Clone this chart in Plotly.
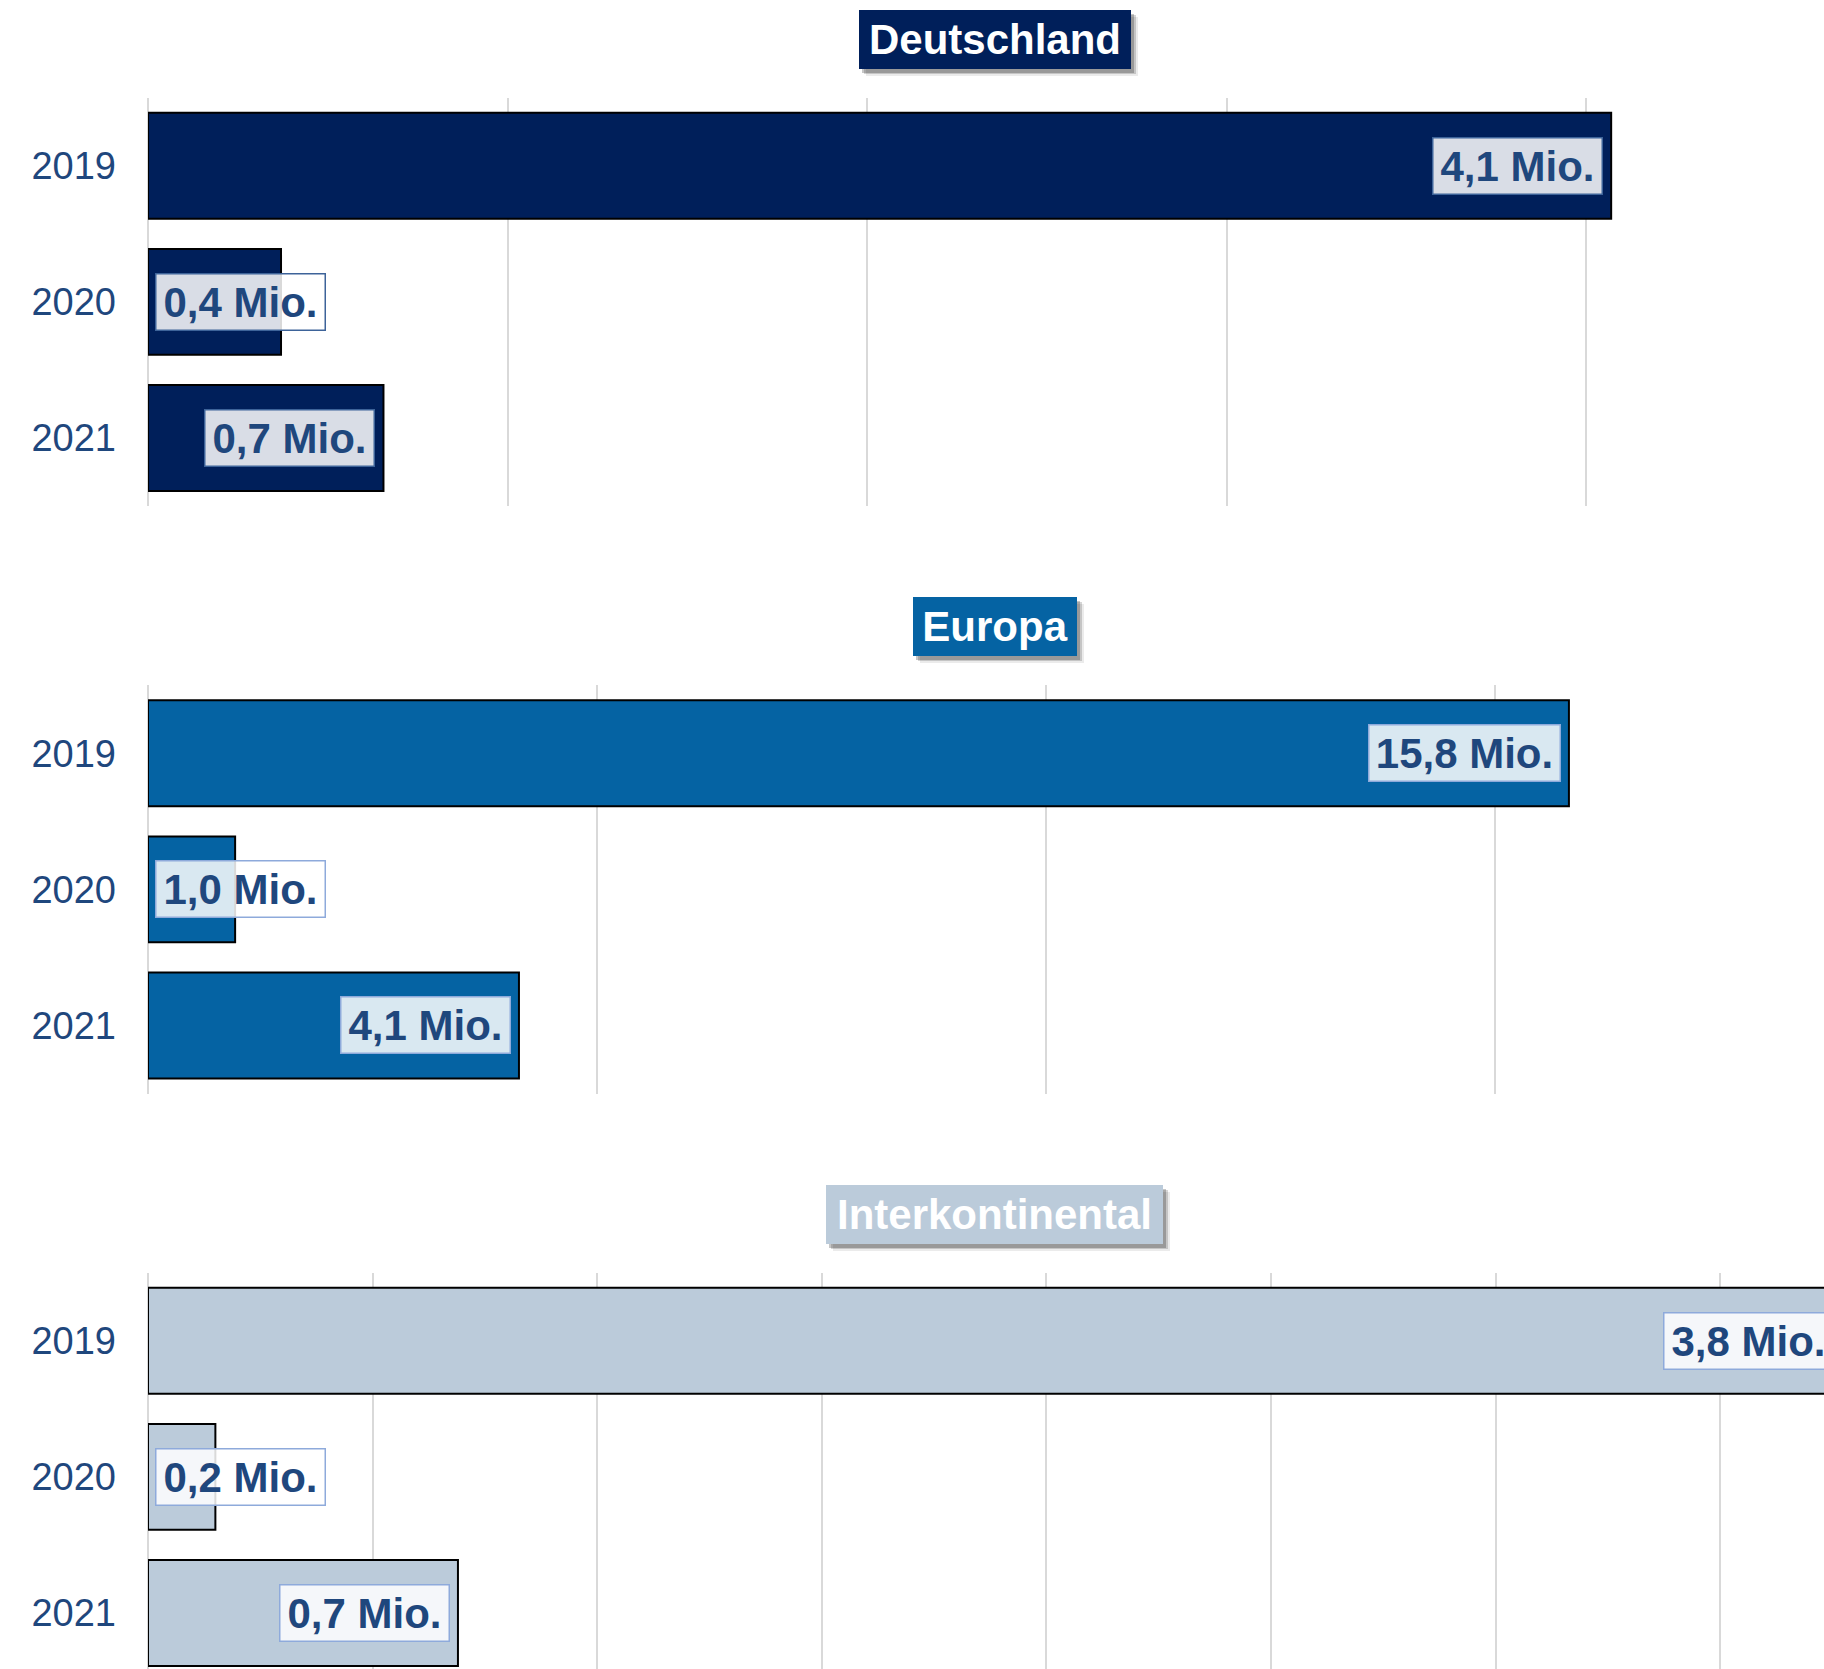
import plotly.graph_objects as go

# ---------------- data ----------------
years = ["2019", "2020", "2021"]
panels = ["Deutschland", "Europa", "Interkontinental"]

de_values = [4.07, 0.37, 0.655]
eu_values = [15.82, 0.97, 4.13]
ik_values = [3.77, 0.15, 0.69]

de_labels = ["4,1 Mio.", "0,4 Mio.", "0,7 Mio."]
eu_labels = ["15,8 Mio.", "1,0 Mio.", "4,1 Mio."]
ik_labels = ["3,8 Mio.", "0,2 Mio.", "0,7 Mio."]

# axis settings (Mio.)
x_max = [4.662, 18.66, 3.731]
x_step = [1, 5, 0.5]

# ---------------- styles ----------------
bar_colors = ["#001f5a", "#0563a3", "#bbcbda"]
box_border = ["#3d6399", "#8eaadb", "#8eaadb"]
label_color = "#1f477d"
FONT = "Liberation Sans, Arial, Helvetica, sans-serif"

W, H = 1824, 1669
ML = 148
plot_w = W - ML
panel_top = [97.7, 685.2, 1272.7]
panel_h = 408.3
slot = panel_h / 3
title_w = [262, 154, 327]

values_all = [de_values, eu_values, ik_values]
labels_all = [de_labels, eu_labels, ik_labels]

fig = go.Figure()
annotations = []
layout_axes = {}

for i in range(3):
    xa = "x" if i == 0 else f"x{i+1}"
    ya = "y" if i == 0 else f"y{i+1}"
    top = panel_top[i]
    bottom = min(top + panel_h, H)
    y_bottom_val = -0.5 + (bottom - top) / slot
    fig.add_trace(go.Bar(
        x=values_all[i], y=[0, 1, 2], orientation="h",
        marker=dict(color=bar_colors[i], line=dict(color="#000000", width=2)),
        width=0.778, xaxis=xa, yaxis=ya, showlegend=False, hoverinfo="skip",
    ))
    layout_axes["xaxis" if i == 0 else f"xaxis{i+1}"] = dict(
        domain=[0, 1], anchor=ya, range=[0, x_max[i]], dtick=x_step[i], tick0=0,
        showgrid=True, gridcolor="#d9d9d9", gridwidth=2,
        zeroline=True, zerolinecolor="#d9d9d9", zerolinewidth=2,
        showticklabels=False, showline=False, fixedrange=True, layer="below traces",
    )
    layout_axes["yaxis" if i == 0 else f"yaxis{i+1}"] = dict(
        domain=[1 - bottom / H, 1 - top / H], anchor=xa,
        range=[y_bottom_val, -0.5], tickvals=[0, 1, 2], ticktext=years,
        showgrid=False, zeroline=False, showline=False,
        tickfont=dict(family=FONT, size=38, color=label_color),
        ticklabelstandoff=31, ticks="", fixedrange=True,
    )

    # panel title with shadow
    ytop = 1 - top / H
    for dx, dy, a in [(7, -7, 0.08), (5, -5, 0.16), (3, -4, 0.22)]:
        annotations.append(dict(
            xref="paper", yref="paper", x=0.5052, y=ytop, xanchor="center", yanchor="middle",
            xshift=dx, yshift=58.5 + dy, showarrow=False,
            text="<b>" + panels[i] + "</b>", font=dict(family=FONT, size=42, color="rgba(0,0,0,0)"),
            bgcolor=f"rgba(0,0,0,{a})", borderwidth=0, borderpad=5,
            width=title_w[i], height=49,
        ))
    annotations.append(dict(
        xref="paper", yref="paper", x=0.5052, y=ytop, xanchor="center", yanchor="middle",
        yshift=58.5, showarrow=False,
        text="<b>" + panels[i] + "</b>", font=dict(family=FONT, size=42, color="#ffffff"),
        bgcolor=bar_colors[i], borderwidth=0, borderpad=5,
        width=title_w[i], height=49,
    ))

    # value labels
    for j, (v, t) in enumerate(zip(values_all[i], labels_all[i])):
        frac = v / x_max[i]
        bar_px = frac * plot_w
        if bar_px < 186:
            xpos, xanc, xs = 0, "left", 7
        else:
            xpos, xanc, xs = frac, "right", -8
        annotations.append(dict(
            xref="paper", yref=ya, x=xpos, y=j, xanchor=xanc, yanchor="middle",
            xshift=xs, showarrow=False,
            text="<b>" + t + "</b>", font=dict(family=FONT, size=42, color=label_color),
            bgcolor="rgba(255,255,255,0.85)", bordercolor=box_border[i],
            borderwidth=1.5, borderpad=6, width=156 if len(t) < 9 else 178, height=43,
        ))

fig.update_layout(
    width=W, height=H,
    margin=dict(l=ML, r=0, t=0, b=0, pad=0),
    paper_bgcolor="#ffffff", plot_bgcolor="#ffffff",
    annotations=annotations, **layout_axes,
)

fig.write_html(
    "out.html", config={"displayModeBar": False},
    post_script="document.body.style.margin='0px';document.body.style.overflow='hidden';",
)
